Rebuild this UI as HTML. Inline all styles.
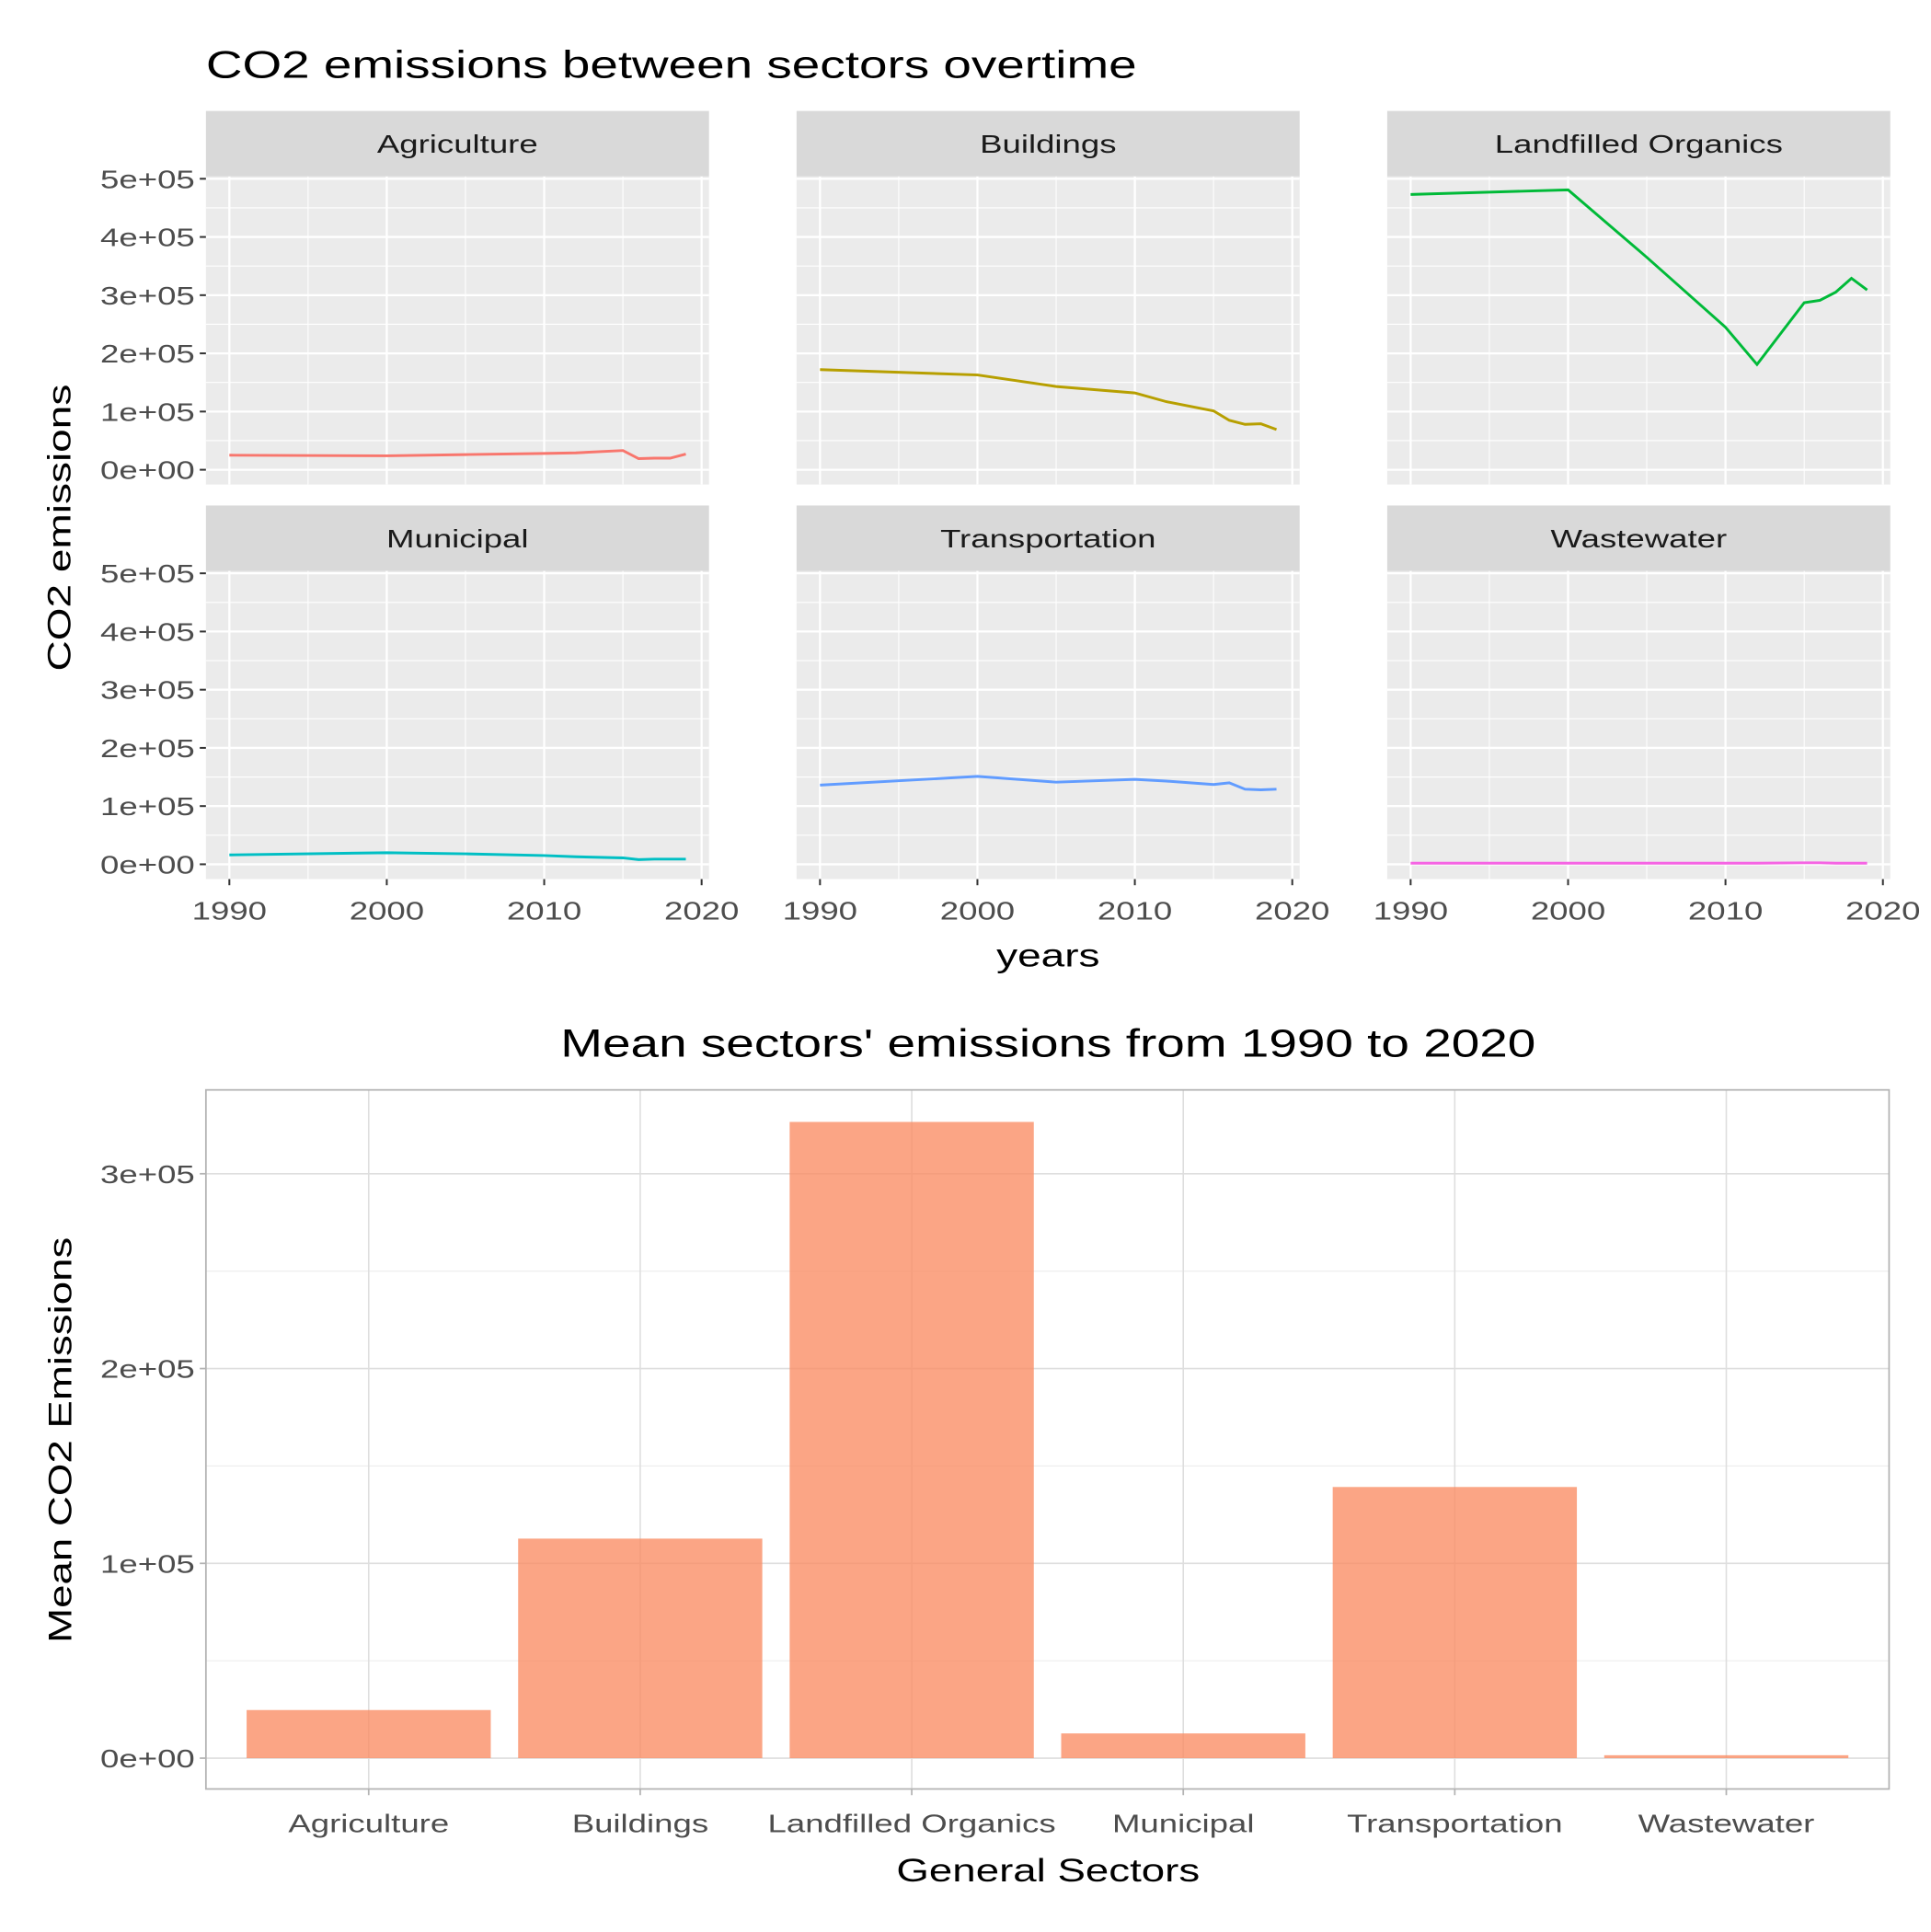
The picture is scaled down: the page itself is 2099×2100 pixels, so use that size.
<!DOCTYPE html>
<html><head><meta charset="utf-8">
<style>
html,body{margin:0;padding:0;background:#fff;}
svg{display:block;font-family:"Liberation Sans",Arial,sans-serif;}
</style></head>
<body>
<svg id="chart" width="2099" height="2100" viewBox="0 0 1566 1567" preserveAspectRatio="none" xmlns="http://www.w3.org/2000/svg">
<g transform="translate(167,63) scale(1.32,1)"><text x="0" y="0" font-size="31" fill="#000">CO2 emissions between sectors overtime</text></g>
<g id="facets"></g>
<g transform="translate(850,784) scale(1.32,1)"><text x="0" y="0" font-size="26" text-anchor="middle" fill="#000">years</text></g>
<g transform="translate(57,428) rotate(-90) scale(1.32,1)"><text x="0" y="0" font-size="26" text-anchor="middle" fill="#000">CO2 emissions</text></g>
<g id="bars"></g>
<g transform="translate(850,857) scale(1.28,1)"><text x="0" y="0" font-size="32" text-anchor="middle" fill="#000">Mean sectors' emissions from 1990 to 2020</text></g>
<g transform="translate(850,1526) scale(1.31,1)"><text x="0" y="0" font-size="26" text-anchor="middle" fill="#000">General Sectors</text></g>
<g transform="translate(58,1168) rotate(-90) scale(1.31,1)"><text x="0" y="0" font-size="26" text-anchor="middle" fill="#000">Mean CO2 Emissions</text></g>
</svg>
<script>
const years = [1990,2000,2005,2010,2012,2015,2016,2017,2018,2019];
const sectors = ["Agriculture","Buildings","Landfilled Organics","Municipal","Transportation","Wastewater"];
const agriculture = [25000,24000,26000,28000,29000,33000,19000,20000,20000,27000];
const buildings = [172000,163000,143000,132000,117000,101000,85000,78000,79000,69000];
const landfilled = [473000,481000,365000,245000,181000,287000,291000,305000,329000,309000];
const municipal = [16000,20000,18000,15000,13000,11000,8000,9000,9000,9000];
const transportation = [136000,151000,141000,146000,143000,137000,140000,129000,128000,129000];
const wastewater = [2000,2000,2000,2000,2000,2500,2500,2000,2000,2000];
const yTicks = [0,100000,200000,300000,400000,500000];
const yTickLabels = ["0e+00","1e+05","2e+05","3e+05","4e+05","5e+05"];
const xTicks = [1990,2000,2010,2020];
const meanValues = [24700,112700,326600,12700,139200,1500];
const barTicks = [0,100000,200000,300000];
const barTickLabels = ["0e+00","1e+05","2e+05","3e+05"];

const NS="http://www.w3.org/2000/svg";
function mk(tag,attrs,parent,txt){const e=document.createElementNS(NS,tag);for(const k in attrs)e.setAttribute(k,attrs[k]);if(txt!==undefined)e.textContent=txt;parent.appendChild(e);return e;}
function label(parent,x,y,str,size,anchor,fill,sx){
  const g=mk('g',{transform:'translate('+x+','+y+') scale('+sx+',1)'},parent);
  return mk('text',{x:0,y:0,'font-size':size,'text-anchor':anchor,fill:fill},g,str);
}
const series=[agriculture,buildings,landfilled,municipal,transportation,wastewater];
const colors=["#F8766D","#B79F00","#00BA38","#00BFC4","#619CFF","#F564E3"];
const facets=document.getElementById('facets');
const colX=[167,646,1125], rowY=[90,410], PW=408, SH=53, PH=250;
sectors.forEach((name,i)=>{
  const px=colX[i%3], sy=rowY[Math.floor(i/3)], py=sy+SH;
  const g=mk('g',{},facets);
  
  
  const xs=y=>px+19+(y-1990)*(383/30);
  const ys=v=>py+238-v*(236/500000);
  mk('rect',{x:px,y:py,width:PW,height:PH,fill:'#EBEBEB'},g);
  for(let v=50000;v<=550000;v+=100000) mk('line',{x1:px,x2:px+PW,y1:ys(v),y2:ys(v),stroke:'#fff','stroke-width':0.8},g);
  [1995,2005,2015].forEach(y=>mk('line',{x1:xs(y),x2:xs(y),y1:py,y2:py+PH,stroke:'#fff','stroke-width':0.8},g));
  yTicks.forEach(v=>mk('line',{x1:px,x2:px+PW,y1:ys(v),y2:ys(v),stroke:'#fff','stroke-width':1.7},g));
  xTicks.forEach(y=>mk('line',{x1:xs(y),x2:xs(y),y1:py,y2:py+PH,stroke:'#fff','stroke-width':1.7},g));
  const strip=mk('rect',{x:px,y:sy,width:PW,height:SH,fill:'#D9D9D9'},g);
  
  
  label(g,px+PW/2,sy+34,name,21,'middle','#1a1a1a',1.3);
  const pts=years.map((y,j)=>xs(y).toFixed(1)+','+ys(series[i][j]).toFixed(1)).join(' ');
  const ln=mk('polyline',{points:pts,fill:'none',stroke:colors[i],'stroke-width':2.2},g);
  
  
  if(i%3===0){
    yTicks.forEach((v,k)=>{
      mk('line',{x1:px-5,x2:px,y1:ys(v),y2:ys(v),stroke:'#333','stroke-width':1.5},g);
      label(g,px-9,ys(v)+7.5,yTickLabels[k],21,'end','#4D4D4D',1.3);
    });
  }
  if(i>=3){
    xTicks.forEach(y=>{
      mk('line',{x1:xs(y),x2:xs(y),y1:py+PH,y2:py+PH+5,stroke:'#333','stroke-width':1.5},g);
      label(g,xs(y),py+PH+33,String(y),21,'middle','#4D4D4D',1.3);
    });
  }
});

const bars=document.getElementById('bars');
const bx0=167,bx1=1532,by0=884,by1=1451;
const bys=v=>1426-v*(158/100000);
const bstep=(1400-299)/5;
const bxs=i=>299+i*bstep;
for(let v=50000;v<=250000;v+=100000) mk('line',{x1:bx0,x2:bx1,y1:bys(v),y2:bys(v),stroke:'#EDEDED','stroke-width':0.8},bars);
barTicks.forEach(v=>mk('line',{x1:bx0,x2:bx1,y1:bys(v),y2:bys(v),stroke:'#DEDEDE','stroke-width':1.2},bars));
sectors.forEach((s,i)=>mk('line',{x1:bxs(i),x2:bxs(i),y1:by0,y2:by1,stroke:'#DEDEDE','stroke-width':1.2},bars));
sectors.forEach((s,i)=>{
  const r=mk('rect',{x:bxs(i)-99,y:bys(meanValues[i]),width:198,height:1426-bys(meanValues[i]),fill:'#FA8C63','fill-opacity':0.78},bars);
  
  
  mk('line',{x1:bxs(i),x2:bxs(i),y1:by1,y2:by1+5,stroke:'#B3B3B3','stroke-width':1.3},bars);
  label(bars,bxs(i),1486,s,21,'middle','#4D4D4D',1.3);
});
barTicks.forEach((v,k)=>{
  mk('line',{x1:bx0-5,x2:bx0,y1:bys(v),y2:bys(v),stroke:'#B3B3B3','stroke-width':1.3},bars);
  label(bars,bx0-9,bys(v)+7.5,barTickLabels[k],21,'end','#4D4D4D',1.3);
});
mk('rect',{x:bx0,y:by0,width:bx1-bx0,height:by1-by0,fill:'none',stroke:'#B3B3B3','stroke-width':1.3},bars);
</script>
</body></html>
